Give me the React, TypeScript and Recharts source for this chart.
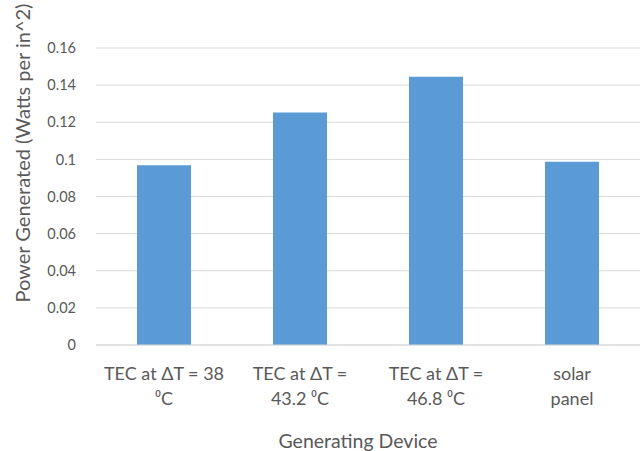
import { BarChart, Bar, XAxis, YAxis, CartesianGrid } from "recharts";

const devices = [
  "TEC at ΔT = 38\n⁰C",
  "TEC at ΔT =\n43.2 ⁰C",
  "TEC at ΔT =\n46.8 ⁰C",
  "solar\npanel",
];
const power = [0.0968, 0.1253, 0.1445, 0.0987];
const yTicks = [0, 0.02, 0.04, 0.06, 0.08, 0.1, 0.12, 0.14, 0.16];

const data = devices.map((device, i) => ({ device, power: power[i] }));

const FONT = "Lato, 'Open Sans', sans-serif";
const TEXT = "#595959";
const GRID = "#d9d9d9";

// two-line category labels, like the Excel original
const DeviceTick = (props: any) => {
  const { x, y, payload } = props;
  const lines = String(payload.value).split("\n");
  return (
    <text x={x} y={y} textAnchor="middle" fill={TEXT} fontSize={18} fontFamily={FONT}>
      {lines.map((line, i) => (
        <tspan key={i} x={x} dy={i === 0 ? 21 : 25}>
          {line}
        </tspan>
      ))}
    </text>
  );
};

const App = () => {
  return (
    <div style={{ position: "absolute", left: 0, top: 0, width: 644, height: 451, background: "#fff" }}>
      <BarChart width={644} height={451} data={data} margin={{ top: 48, right: 4, bottom: 76, left: 0 }}>
        <CartesianGrid vertical={false} stroke={GRID} />
        <XAxis
          dataKey="device"
          height={30}
          interval={0}
          tickLine={false}
          axisLine={{ stroke: GRID }}
          tick={<DeviceTick />}
          tickMargin={8}
        />
        <YAxis
          width={96}
          domain={[0, 0.16]}
          ticks={yTicks}
          tickFormatter={(v: number) => String(Number(v.toFixed(2)))}
          tickLine={false}
          axisLine={false}
          tickMargin={14}
          tick={{ fill: TEXT, fontSize: 14.5, fontFamily: FONT }}
        />
        <Bar dataKey="power" fill="#5b9bd5" barSize={54} isAnimationActive={false} />
        <text
          x={22}
          y={153}
          transform="rotate(-90, 22, 153)"
          textAnchor="middle"
          dominantBaseline="central"
          fill={TEXT}
          fontSize={20}
          fontFamily={FONT}
        >
          Power Generated (Watts per in^2)
        </text>
        <text x={358} y={440} textAnchor="middle" dominantBaseline="central" fill={TEXT} fontSize={19.5} fontFamily={FONT}>
          Generating Device
        </text>
      </BarChart>
    </div>
  );
};

export default App;
